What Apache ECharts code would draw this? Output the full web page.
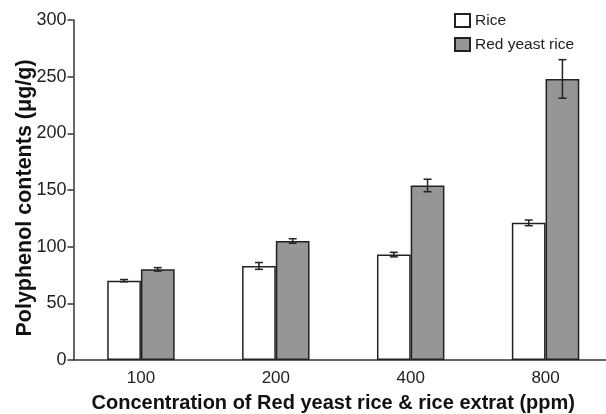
<!DOCTYPE html>
<html><head><meta charset="utf-8">
<script src="https://cdn.jsdelivr.net/npm/echarts@6/dist/echarts.min.js"></script>
<style>html,body{margin:0;padding:0;background:#fff}#c{width:606px;height:414px}</style>
</head><body><div id="c"></div>
<script>
const categories = ['100', '200', '400', '800'];
const riceValues = [70, 83, 93, 121];
const riceErrors = [1, 3, 2, 2.5];
const redValues = [80, 105, 154, 248];
const redErrors = [1.5, 2, 5.5, 17];

const FONT = '"Liberation Sans", Arial, sans-serif';
const chart = echarts.init(document.getElementById('c'), null, {renderer: 'canvas'});

function errItem(offset) {
  return function (params, api) {
    const i = api.value(0), v = api.value(1), e = api.value(2);
    const band = api.size([1, 0])[0];
    const x = api.coord([i, v])[0] + offset * band;
    const yHi = api.coord([i, v + e])[1];
    const yLo = api.coord([i, v - e])[1];
    const h = 4;
    const st = {stroke: '#222', lineWidth: 1.5};
    return {type: 'group', children: [
      {type: 'line', shape: {x1: x, y1: yHi, x2: x, y2: yLo}, style: st},
      {type: 'line', shape: {x1: x - h, y1: yHi, x2: x + h, y2: yHi}, style: st},
      {type: 'line', shape: {x1: x - h, y1: yLo, x2: x + h, y2: yLo}, style: st}
    ]};
  };
}

chart.setOption({
  animation: false,
  grid: {left: 73.5, right: -7, top: 20, bottom: 54, containLabel: false, outerBoundsMode: 'none'},
  legend: {
    orient: 'vertical', left: 449, top: 7.5, itemWidth: 15, itemHeight: 13, itemGap: 8,
    icon: 'rect',
    data: ['Rice', 'Red yeast rice'],
    textStyle: {fontFamily: FONT, fontSize: 15.5, color: '#222'}
  },
  xAxis: {
    type: 'category', data: categories,
    axisLine: {lineStyle: {color: '#333', width: 1.5}},
    axisTick: {show: false},
    axisLabel: {fontFamily: FONT, fontSize: 17, color: '#222', margin: 10},
    name: 'Concentration of Red yeast rice & rice extrat (ppm)',
    nameLocation: 'middle', nameGap: 33,
    nameTextStyle: {fontFamily: FONT, fontSize: 20, fontWeight: 'bold', color: '#111', padding: [0, 20, 0, 0]}
  },
  yAxis: {
    type: 'value', min: 0, max: 300, interval: 50,
    axisLine: {show: true, lineStyle: {color: '#333', width: 1.5}},
    axisTick: {show: true, length: 6, lineStyle: {color: '#333', width: 1.5}},
    splitLine: {show: false},
    axisLabel: {fontFamily: FONT, fontSize: 18, color: '#222', margin: 7},
    name: 'Polyphenol contents (μg/g)',
    nameLocation: 'middle', nameGap: 37, nameMoveOverlap: false,
    nameTextStyle: {fontFamily: FONT, fontSize: 21.5, fontWeight: 'bold', color: '#111', padding: [0, 16, 0, 0]}
  },
  series: [
    {name: 'Rice', type: 'bar', data: riceValues, barWidth: '25%', barGap: '0%',
     itemStyle: {color: '#fff', borderColor: '#222', borderWidth: 1.5}},
    {name: 'Red yeast rice', type: 'bar', data: redValues, barWidth: '25%', barGap: '0%',
     itemStyle: {color: '#969696', borderColor: '#222', borderWidth: 1.5}},
    {type: 'custom', z: 10, renderItem: errItem(-0.125), encode: {x: 0, y: 1},
     data: riceValues.map((v, i) => [i, v, riceErrors[i]])},
    {type: 'custom', z: 10, renderItem: errItem(0.125), encode: {x: 0, y: 1},
     data: redValues.map((v, i) => [i, v, redErrors[i]])}
  ]
});
</script></body></html>
